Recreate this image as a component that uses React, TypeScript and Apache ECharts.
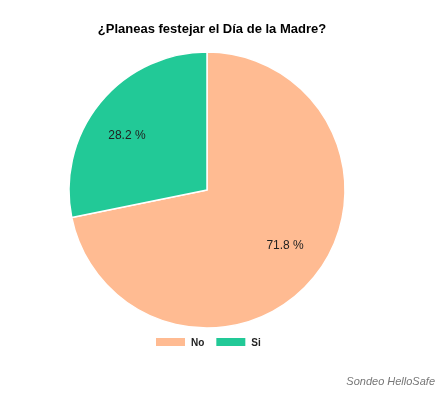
import React, { useEffect, useRef } from "react";
import * as echarts from "echarts";

const categories = ["No", "Si"];
const values = [71.8, 28.2];
const colors = ["#FFBB92", "#22C997"];
const titleText = "¿Planeas festejar el Día de la Madre?";
const sourceText = "Sondeo HelloSafe";
const labelOffsets = [[1, -8], [-3, 8]];

export default function App() {
  const ref = useRef<HTMLDivElement>(null);
  useEffect(() => {
    const chart = echarts.init(ref.current!, undefined, { renderer: "svg" });
    const data = categories.map((c, i) => ({ name: c, value: values[i], itemStyle: { color: colors[i] } }));
    chart.setOption({
      animation: false,
      title: {
        text: titleText,
        left: 207,
        textAlign: "center",
        top: 17,
        textStyle: { fontFamily: "Liberation Sans, Arial", fontSize: 13, fontWeight: "bold", color: "#000" },
      },
      legend: {
        data: categories,
        left: 149,
        top: 331,
        itemWidth: 31,
        itemHeight: 10,
        itemGap: 10,
        icon: "rect",
        textStyle: { fontFamily: "Liberation Sans, Arial", fontSize: 10, fontWeight: "bold", color: "#222" },
      },
      graphic: [
        {
          type: "text",
          right: 12,
          top: 375,
          style: {
            text: sourceText,
            font: "italic 11px 'Liberation Sans', Arial",
            fill: "#777",
          },
        },
      ],
      series: [
        {
          type: "pie",
          center: [207, 190],
          radius: 138,
          startAngle: 90,
          clockwise: true,
          label: { show: false },
          labelLine: { show: false },
          itemStyle: { borderColor: "#fff", borderWidth: 1.5 },
          emphasis: { disabled: true },
          data,
        },
        {
          type: "pie",
          center: [207, 190],
          radius: [55, 138],
          startAngle: 90,
          clockwise: true,
          silent: true,
          legendHoverLink: false,
          itemStyle: { color: "transparent" },
          label: {
            show: true,
            position: "inside",
            formatter: (p: any) => p.value.toFixed(1) + " %",
            fontFamily: "Liberation Sans, Arial",
            fontSize: 12,
            color: "#222",
          },
          labelLine: { show: false },
          emphasis: { disabled: true },
          data: categories.map((c, i) => ({
            name: c + " ",
            value: values[i],
            label: { offset: labelOffsets[i] },
          })),
        },
      ],
    });
    return () => chart.dispose();
  }, []);
  return <div ref={ref} style={{ position: "fixed", left: 0, top: 0, width: 447, height: 407 }} />;
}
